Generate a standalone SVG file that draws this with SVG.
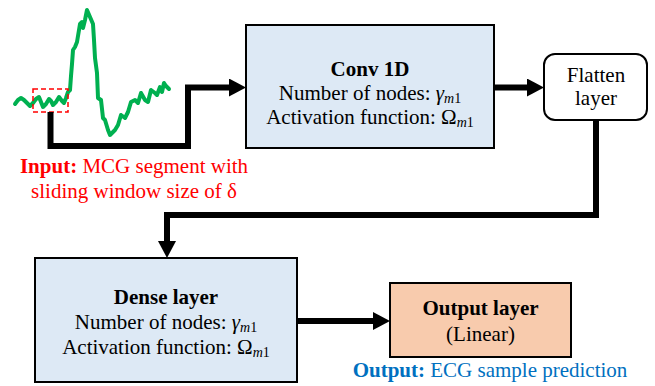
<svg xmlns="http://www.w3.org/2000/svg" width="655" height="386" viewBox="0 0 655 386">
  <style>
    text { font-family: "Liberation Serif", "Times New Roman", serif; fill: #000; }
    .box { stroke: #000; stroke-width: 2; }
    .blue { fill: #dde9f5; }
    .orange { fill: #f8cbad; }
    .white { fill: #fff; }
    .title { font-size: 21px; font-weight: bold; }
    .body { font-size: 21px; }
    .it { font-style: italic; }
    .sub { font-size: 14px; }
    .wire { fill: none; stroke: #000; stroke-width: 6; stroke-linejoin: miter; }
    .note { font-size: 21px; }
  </style>
  <defs>
    <marker id="head" markerUnits="userSpaceOnUse" markerWidth="18" markerHeight="20" refX="7" refY="9" orient="auto">
      <path d="M0,0 L17,9 L0,18 z" fill="#000"/>
    </marker>
  </defs>

  <!-- input signal trace -->
  <g id="signal">
    <path d="M15,104 L18,100 L21,98 L24,100 L27,103 L30,106 L33,103 L36,99 L39,97 L41,102 L43,107 L46,104 L49,99 L51,101 L53,105 L56,102 L59,97 L62,101 L64,103 L66,98 L68,92 L70,90 L71,76 L72,64 L73,50 L75,47 L77,42 L78,36 L80,24 L82,22 L83,28 L85,20 L87,10 L90,17 L93,24 L94,40 L95,58 L97,73 L98,98 L101,100 L103,118 L105,120 L108,130 L110,135 L115,130 L118,125 L121,115 L125,118 L128,112 L131,102 L135,100 L138,103 L141,93 L145,100 L148,102 L151,90 L155,93 L157,95 L160,87 L162,92 L164,83 L166,86 L169,89"
          fill="none" stroke="#00b050" stroke-width="4" stroke-linejoin="round" stroke-linecap="round"/>
    <rect x="33" y="89" width="35" height="23" fill="none" stroke="#ff0000" stroke-width="1.5" stroke-dasharray="5,3"/>
  </g>

  <!-- connectors -->
  <g id="connectors">
    <path class="wire" d="M50.5,112 V146 H188 V87.5 H236" marker-end="url(#head)"/>
    <path class="wire" d="M494,87.5 H534" marker-end="url(#head)"/>
    <path class="wire" d="M596,120 V215 H167 V248" marker-end="url(#head)"/>
    <path class="wire" d="M297,321 H380" marker-end="url(#head)"/>
  </g>

  <!-- input caption -->
  <g id="input-label">
    <text class="note" x="134" y="173" text-anchor="middle" style="fill:#ff0000"><tspan font-weight="bold" style="fill:#ff0000">Input:</tspan> MCG segment with</text>
    <text class="note" x="134" y="198" text-anchor="middle" style="fill:#ff0000">sliding window size of δ</text>
  </g>

  <!-- Conv 1D -->
  <g id="conv1d">
    <rect class="box blue" x="246" y="25" width="248" height="123"/>
    <text class="title" x="370" y="76" text-anchor="middle">Conv 1D</text>
    <text class="body" x="370" y="100" text-anchor="middle">Number of nodes: <tspan class="it">γ</tspan><tspan class="sub it" dy="3">m</tspan><tspan class="sub">1</tspan></text>
    <text class="body" x="370" y="124" text-anchor="middle">Activation function: Ω<tspan class="sub it" dy="3">m</tspan><tspan class="sub">1</tspan></text>
  </g>

  <!-- Flatten layer -->
  <g id="flatten">
    <rect class="box white" x="544" y="54" width="103" height="66" rx="11" ry="11"/>
    <text class="body" x="596" y="82" text-anchor="middle" font-size="20">Flatten</text>
    <text class="body" x="596" y="105" text-anchor="middle" font-size="20">layer</text>
  </g>

  <!-- Dense layer -->
  <g id="dense">
    <rect class="box blue" x="35" y="258" width="262" height="124"/>
    <text class="title" x="166" y="304" text-anchor="middle">Dense layer</text>
    <text class="body" x="166" y="329" text-anchor="middle">Number of nodes: <tspan class="it">γ</tspan><tspan class="sub it" dy="3">m</tspan><tspan class="sub">1</tspan></text>
    <text class="body" x="166" y="354" text-anchor="middle">Activation function: Ω<tspan class="sub it" dy="3">m</tspan><tspan class="sub">1</tspan></text>
  </g>

  <!-- Output layer -->
  <g id="output">
    <rect class="box orange" x="390" y="283" width="181" height="74"/>
    <text class="title" x="480.5" y="315" text-anchor="middle">Output layer</text>
    <text class="body" x="480.5" y="341" text-anchor="middle">(Linear)</text>
  </g>

  <!-- output caption -->
  <g id="output-label">
    <text class="note" x="490" y="377" text-anchor="middle" style="fill:#0070c0"><tspan font-weight="bold" style="fill:#0070c0">Output:</tspan> ECG sample prediction</text>
  </g>
</svg>
